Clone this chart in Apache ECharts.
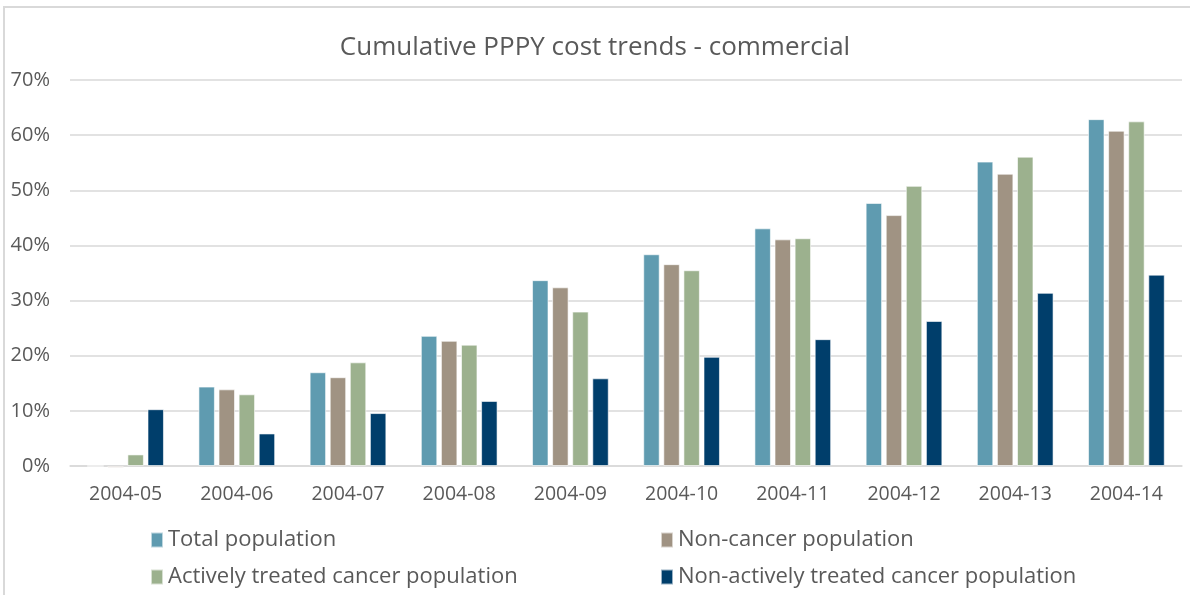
<!DOCTYPE html>
<html>
<head>
<meta charset="utf-8">
<script src="https://cdn.jsdelivr.net/npm/echarts@6/dist/echarts.min.js"></script>
<style>
  html, body { margin: 0; padding: 0; background: #fff; }
  #chart { position: absolute; left: 0; top: 0; width: 1190px; height: 595px; }
  .frame { position: absolute; left: 3px; top: 6px; width: 1190px; height: 600px;
           border-left: 2px solid #d9d9d9; border-top: 2px solid #d9d9d9; pointer-events: none; }
</style>
</head>
<body>
<div id="chart"></div>
<div class="frame"></div>
<script>
// datos (porcentaje acumulado)
const categories = ['2004-05', '2004-06', '2004-07', '2004-08', '2004-09',
                    '2004-10', '2004-11', '2004-12', '2004-13', '2004-14'];
const totalPop     = [0,    14.4, 17.0, 23.6, 33.7, 38.4, 43.1, 47.7, 55.2, 62.9];
const nonCancer    = [-0.3, 13.9, 16.1, 22.7, 32.4, 36.6, 41.1, 45.5, 53.0, 60.8];
const activeTx     = [2.1,  13.0, 18.8, 22.0, 28.0, 35.5, 41.3, 50.8, 56.1, 62.5];
const nonActiveTx  = [10.3, 5.9,  9.6,  11.8, 15.9, 19.8, 23.0, 26.3, 31.4, 34.7];
const yTicks = [0, 10, 20, 30, 40, 50, 60, 70];

const names = ['Total population', 'Non-cancer population',
               'Actively treated cancer population', 'Non-actively treated cancer population'];
const colors = ['#5f9bb0', '#a09383', '#9cb18e', '#003e6b'];
const font = '"Open Sans", sans-serif';

function barSeries(i, data) {
  return {
    name: names[i],
    type: 'bar',
    data: data,
    barGap: '22%',
    barCategoryGap: '31%',
    clip: false,
    itemStyle: { color: colors[i], borderColor: 'rgba(255,255,255,0.6)', borderWidth: 1 }
  };
}

const legendText = { fontFamily: font, fontSize: 22, color: '#595959' };

const myChart = echarts.init(document.getElementById('chart'));
const option = {
  animation: false,
  color: colors,
  title: {
    text: 'Cumulative PPPY cost trends - commercial',
    left: 'center',
    top: 30,
    textStyle: { fontFamily: font, fontSize: 26, fontWeight: 'normal', color: '#595959' }
  },
  legend: [
    {
      data: [names[0], names[2]],
      orient: 'vertical',
      left: 150, top: 529,
      itemWidth: 12, itemHeight: 15, itemGap: 15, itemTextGap: 7, padding: 0,
      icon: 'rect',
      textStyle: legendText
    },
    {
      data: [names[1], names[3]],
      orient: 'vertical',
      left: 660, top: 529,
      itemWidth: 12, itemHeight: 15, itemGap: 15, itemTextGap: 7, padding: 0,
      icon: 'rect',
      textStyle: legendText
    }
  ],
  grid: { left: 70, right: 8, top: 80, bottom: 129 },
  xAxis: {
    type: 'category',
    data: categories,
    axisLine: { lineStyle: { color: '#d9d9d9', width: 1.5 } },
    axisTick: { show: false },
    axisLabel: { fontFamily: font, fontSize: 19.5, color: '#595959', margin: 18 }
  },
  yAxis: {
    type: 'value',
    min: yTicks[0],
    max: yTicks[yTicks.length - 1],
    interval: 10,
    axisLine: { show: false },
    axisTick: { show: false },
    splitLine: { lineStyle: { color: '#d9d9d9', width: 1.5 } },
    axisLabel: { fontFamily: font, fontSize: 20, color: '#595959', margin: 20, formatter: '{value}%' }
  },
  series: [
    barSeries(0, totalPop),
    barSeries(1, nonCancer),
    barSeries(2, activeTx),
    barSeries(3, nonActiveTx)
  ]
};
myChart.setOption(option);
</script>
</body>
</html>
